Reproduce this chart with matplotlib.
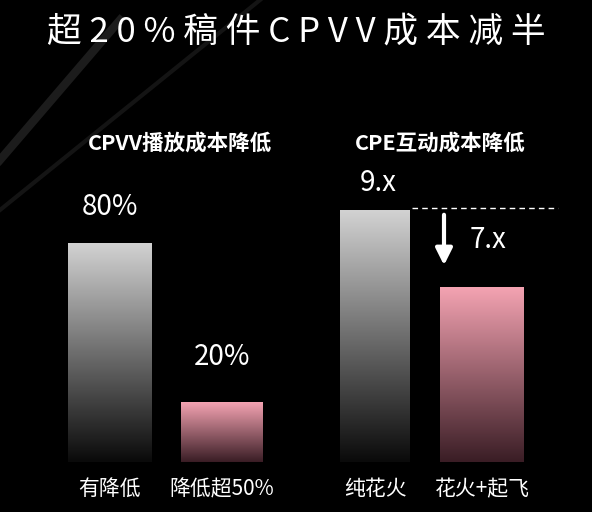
import numpy as np
import matplotlib
matplotlib.use("Agg")
import matplotlib.pyplot as plt

plt.rcParams['font.family'] = ['Noto Sans CJK SC', 'DejaVu Sans']

title = "超 2 0 % 稿 件 C P V V 成 本 减 半"
panel_titles = ["CPVV播放成本降低", "CPE互动成本降低"]
categories = ["有降低", "降低超50%", "纯花火", "花火+起飞"]
value_labels = ["80%", "20%", "9.x", "7.x"]
# bar heights as drawn in the picture (pixels above baseline)
heights = [219, 60, 252, 175]
bar_centers = [110, 222, 375, 482]
bar_widths = [84, 82, 70, 84]
is_pink = [False, True, False, True]

BASE = 462
fig = plt.figure(figsize=(5.92, 5.12), dpi=100, facecolor="black")
ax = fig.add_axes([0, 0, 1, 1])
ax.set_facecolor("black")
ax.set_xlim(0, 592)
ax.set_ylim(512, 0)
ax.axis("off")

# faint decorative lines
ax.plot([0, 120], [160, 20], color="#1c1c1c", lw=6)
ax.plot([0, 260], [210, 0], color="#141414", lw=3)

ax.text(296, 32, title, color="white", fontsize=25, ha="center", va="center")
ax.text(180, 143, panel_titles[0], color="white", fontsize=15.5, fontweight="bold", ha="center", va="center")
ax.text(440, 143, panel_titles[1], color="white", fontsize=15.5, fontweight="bold", ha="center", va="center")

grad = np.linspace(0, 1, 256).reshape(-1, 1)
gray_cmap = matplotlib.colors.LinearSegmentedColormap.from_list("g", ["#d2d2d2", "#0a0a0a"])
pink_cmap = matplotlib.colors.LinearSegmentedColormap.from_list("p", ["#f4a3b2", "#3a1d25"])

for x, w, h, pink, lab, cat in zip(bar_centers, bar_widths, heights, is_pink, value_labels, categories):
    bar = ax.bar(x, -h, width=w, bottom=BASE, color="none", edgecolor="none")[0]
    im = ax.imshow(grad, cmap=pink_cmap if pink else gray_cmap, aspect="auto",
                   extent=(x - w / 2, x + w / 2, BASE, BASE - h), zorder=2)
    im.set_clip_path(bar)
    ax.text(x, 489, cat, color="white", fontsize=15, ha="center", va="center")

ax.text(110, 207, value_labels[0], color="white", fontsize=20, ha="center", va="center")
ax.text(222, 357, value_labels[1], color="white", fontsize=20, ha="center", va="center")
ax.text(378, 183, value_labels[2], color="white", fontsize=20, ha="center", va="center")
ax.text(488, 240, value_labels[3], color="white", fontsize=20, ha="center", va="center")

ax.plot([412, 558], [BASE - heights[2] - 2] * 2, color="white", lw=1, ls=(0, (4, 3)))
ax.annotate("", xy=(444, 268), xytext=(444, 212),
            arrowprops=dict(arrowstyle="-|>,head_width=0.5,head_length=1.0", color="white", lw=3))

ax.set_xlim(0, 592)
ax.set_ylim(512, 0)
fig.savefig("out.png", dpi=100, facecolor="black")
